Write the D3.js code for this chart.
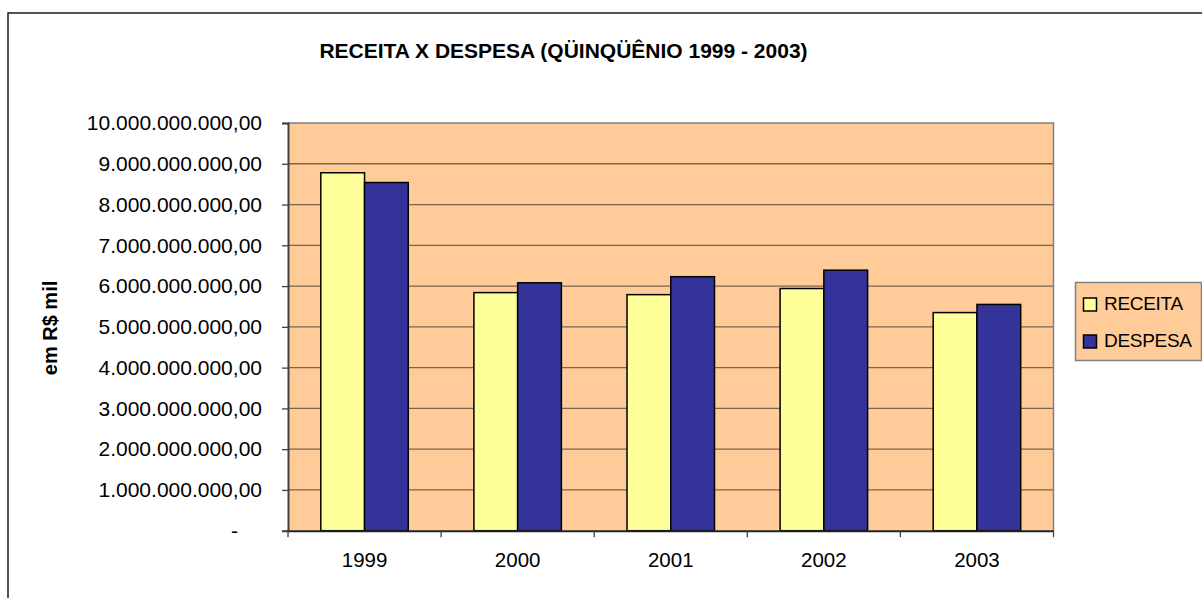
<!DOCTYPE html>
<html><head><meta charset="utf-8">
<script src="https://cdn.jsdelivr.net/npm/d3@7"></script>
<style>
html,body{margin:0;padding:0;background:#fff;}
svg{display:block;font-family:"Liberation Sans",Arial,sans-serif;}
</style></head>
<body><svg id="c" width="1202" height="598"></svg>
<script>
const categories = ["1999","2000","2001","2002","2003"];
const seriesNames = ["RECEITA","DESPESA"];
const receita = [8780000000, 5840000000, 5790000000, 5940000000, 5350000000];
const despesa = [8540000000, 6080000000, 6230000000, 6390000000, 5550000000];
const yTicks = [0,1e9,2e9,3e9,4e9,5e9,6e9,7e9,8e9,9e9,1e10];
const titleText = "RECEITA X DESPESA (QÜINQÜÊNIO 1999 - 2003)";
const yAxisTitle = "em R$ mil";
const colors = ["#FFFF99","#333399"];

const svg = d3.select("#c");
const L = 288, R = 1053.5, T = 123, B = 530.7;

// outer chart border
svg.append("rect").attr("x",8).attr("y",13).attr("width",1220).attr("height",620)
  .attr("fill","#fff").attr("stroke","#1a1a1a").attr("stroke-width",1.5);

const x = d3.scaleBand().domain(categories).range([L,R]).paddingInner(0).paddingOuter(0);
const xs = d3.scaleBand().domain(seriesNames).range([0,x.bandwidth()]).paddingInner(0).paddingOuter(0.75);
const y = d3.scaleLinear().domain([0,1e10]).range([B,T]);

// plot bg
svg.append("rect").attr("x",L).attr("y",T).attr("width",R-L).attr("height",B-T).attr("fill","#FFCC99");

// gridlines
svg.append("g").selectAll("line").data(yTicks.filter(v=>v>0 && v<1e10)).join("line")
  .attr("x1",L).attr("x2",R).attr("y1",d=>y(d)).attr("y2",d=>y(d))
  .attr("stroke","#7a6550").attr("stroke-width",1.3);

// plot border (top & right)
svg.append("path").attr("d",`M${L},${T}H${R}V${B}`).attr("fill","none")
  .attr("stroke","#808080").attr("stroke-width",1.5);

// bars
const data = categories.map((c,i)=>({cat:c, vals:[receita[i],despesa[i]]}));
const g = svg.append("g");
data.forEach(d=>{
  d.vals.forEach((v,j)=>{
    g.append("rect")
      .attr("x", x(d.cat)+xs(seriesNames[j]))
      .attr("y", y(v))
      .attr("width", xs.bandwidth())
      .attr("height", y(0)-y(v))
      .attr("fill", colors[j])
      .attr("stroke","#000").attr("stroke-width",1.5);
  });
});

// y axis
const loc = d3.formatLocale({decimal:",", thousands:".", grouping:[3], currency:["R$",""]});
const fmt = loc.format(",.2f");
const yAxis = d3.axisLeft(y).tickValues(yTicks).tickSize(6).tickPadding(20)
  .tickFormat(d=> d===0 ? "-" : fmt(d));
const ya = svg.append("g").attr("transform",`translate(${L},0)`).call(yAxis);
ya.select(".domain").attr("stroke","#404040").attr("stroke-width",2);
ya.selectAll(".tick line").attr("stroke","#404040").attr("stroke-width",1.3);
ya.selectAll(".tick text").attr("font-size",21).attr("fill","#000")
  .attr("font-family","'Liberation Sans',Arial,sans-serif");
ya.selectAll(".tick text").filter(d=>d===0).attr("dx",-24);

// x axis
const xAxis = d3.axisBottom(x).tickSize(0).tickPadding(22);
const xa = svg.append("g").attr("transform",`translate(0,${B})`).call(xAxis);
xa.select(".domain").attr("stroke","#222").attr("stroke-width",2);
xa.selectAll(".tick text").attr("font-size",20.5).attr("fill","#000")
  .attr("font-family","'Liberation Sans',Arial,sans-serif");
// category boundary ticks
const bounds = categories.map(c=>x(c)).concat([R]);
svg.append("g").selectAll("line").data(bounds).join("line")
  .attr("x1",d=>d).attr("x2",d=>d).attr("y1",B).attr("y2",B+6.5)
  .attr("stroke","#404040").attr("stroke-width",1.3);

// title
svg.append("text").attr("x",563.5).attr("y",58).attr("text-anchor","middle")
  .attr("font-size",21).attr("font-weight","bold").attr("fill","#000").text(titleText);

// y axis title
svg.append("text").attr("transform","translate(57,328) rotate(-90)").attr("text-anchor","middle")
  .attr("font-size",20).attr("font-weight","bold").attr("fill","#000").text(yAxisTitle);

// legend
const lg = svg.append("g");
lg.append("rect").attr("x",1075.5).attr("y",282.5).attr("width",126).attr("height",78)
  .attr("fill","#FFCC99").attr("stroke","#808080").attr("stroke-width",1.5);
seriesNames.forEach((s,i)=>{
  const yy = 298 + i*37;
  lg.append("rect").attr("x",1083.5).attr("y",yy).attr("width",13).attr("height",13)
    .attr("fill",colors[i]).attr("stroke","#000").attr("stroke-width",1.5);
  lg.append("text").attr("x",1104).attr("y",yy+12).attr("font-size",19)
    .attr("letter-spacing",-0.3).attr("fill","#000").text(s);
});
</script></body></html>
